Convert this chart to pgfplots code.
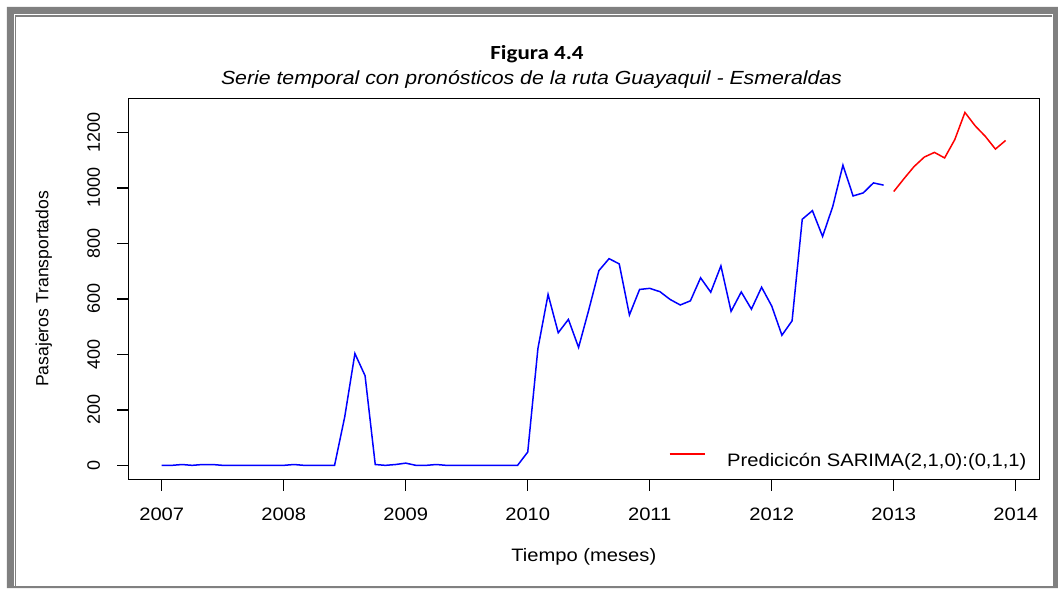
\documentclass[border=0pt]{standalone}
\usepackage{fontspec}
\setmainfont{Liberation Sans}[FakeStretch=1.12]
\newfontfamily\rotfont{Liberation Sans}
\newfontfamily\titlefont{Carlito}[FakeStretch=1.15]
\usepackage{pgfplots}
\usepackage{pgfplotstable}
\pgfplotsset{compat=1.18}

\definecolor{marco}{RGB}{128,128,128}

% pasajeros mensuales observados (t = meses desde ene 2007)
\pgfplotstableread{
t pas
0 0
1 0
2 3
3 0
4 3
5 3
6 0
7 0
8 0
9 0
10 0
11 0
12 0
13 3
14 0
15 0
16 0
17 0
18 175
19 403
20 323
21 3
22 0
23 3
24 8
25 0
26 0
27 3
28 0
29 0
30 0
31 0
32 0
33 0
34 0
35 0
36 48
37 421
38 616
39 478
40 526
41 425
42 560
43 702
44 745
45 726
46 542
47 634
48 638
49 626
50 598
51 578
52 593
53 676
54 624
55 719
56 555
57 625
58 563
59 642
60 574
61 469
62 521
63 887
64 918
65 825
66 933
67 1082
68 971
69 982
70 1018
71 1010
}\observado

% pronostico 2013
\pgfplotstableread{
t pas
72 987
73 1033
74 1077
75 1111
76 1128
77 1108
78 1174
79 1272
80 1224
81 1186
82 1140
83 1171
}\prediccion

\begin{document}
\begin{tikzpicture}
\useasboundingbox (-64.15pt,-54.25pt) rectangle (464.85pt,239.75pt);
% marco gris
\fill[marco, even odd rule] (-60.65pt,236.25pt) rectangle (464.85pt,-54.25pt)
  (-57.15pt,232.75pt) rectangle (462.35pt,-53.25pt);
\draw[marco, line width=0.75pt] (-56.4pt,-53.25pt) -- (-56.4pt,231.85pt) -- (461.85pt,231.85pt);

\node[font=\titlefont\bfseries\fontsize{10}{12}\selectfont, anchor=base] at (204.35pt,209.75pt) {Figura 4.4};
\node[font=\itshape\fontsize{9.5}{11}\selectfont, anchor=base] at (201.6pt,197.25pt) {Serie temporal con pronósticos de la ruta Guayaquil - Esmeraldas};

\begin{axis}[
  scale only axis,
  width=455.5pt, height=190.6pt,
  at={(0pt,0pt)}, anchor=south west,
  xmin=-3.288, xmax=86.316,
  ymin=-51, ymax=1323,
  xtick={0,12,24,36,48,60,72,84},
  xticklabels={2007,2008,2009,2010,2011,2012,2013,2014},
  ytick={0,200,400,600,800,1000,1200},
  tick pos=left, tick align=outside,
  major tick length=5.5pt,
  tick style={black, line width=0.65pt},
  axis line style={line width=0.65pt},
  /pgf/number format/1000 sep={},
  /pgf/number format/assume math mode=true,
  tick label style={font=\fontsize{9}{10}\selectfont},
  xticklabel style={anchor=base, yshift=-14.75pt, inner sep=0pt},
  yticklabel style={font=\rotfont\fontsize{9}{10}\selectfont, xshift=-8.65pt, rotate=90, anchor=base, inner sep=0pt},
  xlabel={Tiempo (meses)},
  xlabel style={at={(axis description cs:0.5,-0.2151)}, anchor=base, inner sep=0pt, font=\fontsize{9}{10}\selectfont},
  ylabel={Pasajeros Transportados},
  ylabel style={at={(axis description cs:-0.0876,0.5)}, anchor=base, inner sep=0pt, font=\rotfont\fontsize{8.8}{10}\selectfont},
  legend style={draw=none, fill=none, at={(axis description cs:0.9862,0.0249)}, anchor=south east,
    inner sep=0pt, font=\fontsize{9}{10}\selectfont, nodes={inner sep=0pt}, column sep=10.85pt},
  legend image code/.code={\draw[#1] (0pt,3.8pt) -- (17.5pt,3.8pt);},
]
\addplot[blue, line width=0.75pt, forget plot] table[x=t, y=pas] {\observado};
\addplot[red, line width=0.75pt] table[x=t, y=pas] {\prediccion};
\addlegendentry{Predicicón SARIMA(2,1,0):(0,1,1)}
\end{axis}
\end{tikzpicture}
\end{document}
